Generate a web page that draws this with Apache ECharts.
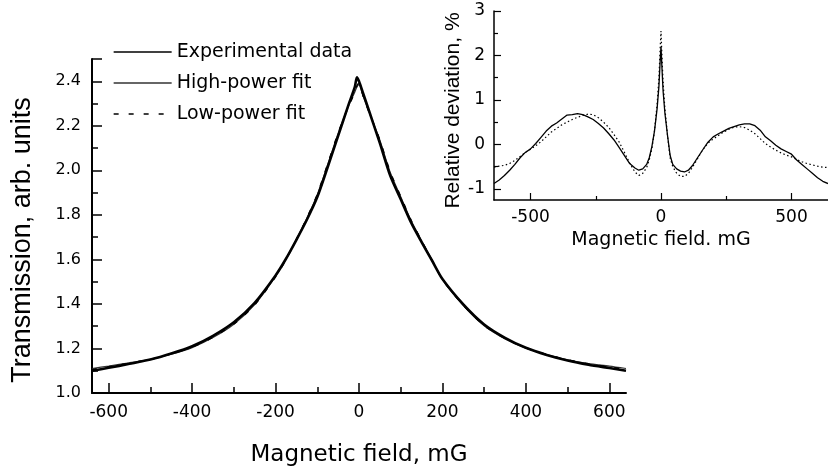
<!DOCTYPE html>
<html>
<head>
<meta charset="utf-8">
<script src="https://cdn.jsdelivr.net/npm/echarts@6/dist/echarts.min.js"></script>
<style>html,body{margin:0;padding:0;background:#fff}#c{width:828px;height:473px}</style>
</head>
<body>
<div id="c"></div>
<script>
// ---- Main plot data ----
var MAIN_X = [-640,-600,-550,-500,-450,-400,-350,-300,-250,-200,-175,-150,-125,-100,-75,-50,-25,-10,-5,0,10,25,50,75,100,125,150,175,200,250,300,350,400,450,500,550,600,640];
var MAIN_EXP = [1.100,1.113,1.131,1.150,1.177,1.210,1.257,1.318,1.405,1.528,1.603,1.688,1.778,1.880,2.015,2.155,2.295,2.375,2.418,2.400,2.345,2.262,2.122,1.975,1.870,1.765,1.678,1.595,1.512,1.398,1.308,1.248,1.203,1.171,1.146,1.127,1.112,1.100];
var MAIN_HP = [1.110,1.121,1.136,1.151,1.174,1.204,1.249,1.309,1.397,1.524,1.602,1.692,1.785,1.890,2.026,2.166,2.290,2.352,2.375,2.385,2.333,2.258,2.135,1.990,1.881,1.774,1.684,1.597,1.510,1.393,1.302,1.243,1.201,1.172,1.149,1.132,1.121,1.110];
var MAIN_LP = [1.106,1.118,1.134,1.151,1.176,1.206,1.250,1.310,1.396,1.522,1.599,1.690,1.786,1.892,2.029,2.168,2.288,2.350,2.380,2.392,2.333,2.257,2.136,1.992,1.883,1.775,1.684,1.595,1.510,1.394,1.303,1.245,1.203,1.173,1.149,1.131,1.117,1.106];
var MAIN_X_MAJOR = [-600,-400,-200,0,200,400,600];
var MAIN_X_MINOR = [-500,-300,-100,100,300,500];
var MAIN_Y_MAJOR = [1.0,1.2,1.4,1.6,1.8,2.0,2.2,2.4,2.5];
var MAIN_Y_LABELS = [1.0,1.2,1.4,1.6,1.8,2.0,2.2,2.4];
var MAIN_Y_MINOR = [1.1,1.3,1.5,1.7,1.9,2.1,2.3];
var LEGEND_NAMES = ['Experimental data','High-power fit','Low-power fit'];

// ---- Inset data ----
var INS_X = [-640,-620,-600,-580,-560,-540,-520,-500,-480,-460,-440,-420,-400,-380,-360,-340,-320,-300,-280,-260,-240,-220,-200,-180,-160,-140,-120,-100,-85,-70,-55,-45,-35,-25,-15,-8,-3,0,3,8,15,25,35,45,60,75,90,105,120,140,160,180,200,220,240,260,280,300,320,340,360,380,400,420,440,460,480,500,520,540,560,580,600,620,640];
var INS_HP = [-0.88,-0.80,-0.70,-0.58,-0.45,-0.30,-0.18,-0.10,0.02,0.16,0.30,0.41,0.48,0.57,0.66,0.67,0.69,0.67,0.62,0.56,0.47,0.37,0.24,0.10,-0.07,-0.25,-0.43,-0.53,-0.58,-0.55,-0.45,-0.30,-0.05,0.30,0.80,1.30,1.90,2.20,1.80,1.20,0.70,0.20,-0.25,-0.45,-0.55,-0.60,-0.62,-0.58,-0.48,-0.30,-0.12,0.05,0.17,0.24,0.30,0.36,0.40,0.44,0.46,0.46,0.42,0.32,0.17,0.08,-0.02,-0.10,-0.16,-0.22,-0.35,-0.45,-0.55,-0.65,-0.75,-0.83,-0.88];
var INS_LP = [-0.51,-0.49,-0.47,-0.43,-0.36,-0.27,-0.18,-0.11,-0.03,0.06,0.17,0.28,0.36,0.44,0.50,0.56,0.61,0.65,0.68,0.67,0.60,0.50,0.38,0.22,0.05,-0.18,-0.42,-0.62,-0.70,-0.65,-0.52,-0.35,-0.10,0.30,0.90,1.50,2.20,2.55,2.10,1.40,0.80,0.20,-0.30,-0.50,-0.65,-0.72,-0.72,-0.65,-0.52,-0.32,-0.12,0.03,0.12,0.20,0.28,0.34,0.39,0.40,0.38,0.32,0.24,0.13,0.02,-0.06,-0.13,-0.19,-0.24,-0.28,-0.34,-0.39,-0.43,-0.46,-0.49,-0.51,-0.52];
var INS_X_MAJOR = [-500,0,500];
var INS_X_MINOR = [-250,250];
var INS_Y_MAJOR = [-1,0,1,2,3];
var INS_Y_MINOR = [-0.5,0.5,1.5,2.5];

function pairs(xs, ys){ return xs.map(function(x,i){ return [x, ys[i]]; }); }

var SANS = 'DejaVu Sans';
var ARIAL = 'Liberation Sans';
var BLACK = '#000';

var chart = echarts.init(document.getElementById('c'), null, {renderer:'canvas'});
chart.setOption({
  animation:false,
  backgroundColor:'#fff',
  grid:[
    {left:92, top:59, width:534, height:334},
    {left:494, top:11, width:336, height:189}
  ],
  legend:{
    orient:'vertical', left:108, top:37, itemWidth:58, itemHeight:14, itemGap:11,
    data:LEGEND_NAMES,
    textStyle:{fontFamily:SANS, fontSize:19, color:BLACK, lineHeight:20},
    itemStyle:{opacity:0},
    lineStyle:{width:1.3}
  },
  xAxis:[
    {gridIndex:0, type:'value', min:-640, max:640, position:'bottom',
     name:'Magnetic field, mG', nameLocation:'middle', nameGap:51,
     nameTextStyle:{fontFamily:SANS, fontSize:23, color:BLACK},
     axisLine:{show:true, onZero:false, lineStyle:{color:BLACK, width:2}},
     axisTick:{show:true, inside:true, length:10, lineStyle:{color:BLACK, width:1.5}, customValues:MAIN_X_MAJOR},
     axisLabel:{show:true, margin:11, fontFamily:SANS, fontSize:17, color:BLACK, customValues:MAIN_X_MAJOR},
     splitLine:{show:false}},
    {gridIndex:0, type:'value', min:-640, max:640, position:'bottom',
     axisLine:{show:false, onZero:false},
     axisTick:{show:true, inside:true, length:6, lineStyle:{color:BLACK, width:1.5}, customValues:MAIN_X_MINOR},
     axisLabel:{show:false}, splitLine:{show:false}},
    {gridIndex:1, type:'value', min:-640, max:640, position:'bottom',
     name:'Magnetic field. mG', nameLocation:'middle', nameGap:31,
     nameTextStyle:{fontFamily:SANS, fontSize:19, color:BLACK},
     axisLine:{show:true, onZero:false, lineStyle:{color:BLACK, width:1.5}},
     axisTick:{show:true, inside:true, length:7, lineStyle:{color:BLACK, width:1.2}, customValues:INS_X_MAJOR},
     axisLabel:{show:true, margin:9, fontFamily:SANS, fontSize:17, color:BLACK, customValues:INS_X_MAJOR},
     splitLine:{show:false}},
    {gridIndex:1, type:'value', min:-640, max:640, position:'bottom',
     axisLine:{show:false, onZero:false},
     axisTick:{show:true, inside:true, length:4, lineStyle:{color:BLACK, width:1.2}, customValues:INS_X_MINOR},
     axisLabel:{show:false}, splitLine:{show:false}}
  ],
  yAxis:[
    {gridIndex:0, type:'value', min:1.0, max:2.5, position:'left',
     name:'Transmission, arb. units', nameLocation:'middle', nameGap:56,
     nameTextStyle:{fontFamily:ARIAL, fontSize:27, color:BLACK, padding:[0,28,0,0]},
     axisLine:{show:true, onZero:false, lineStyle:{color:BLACK, width:2}},
     axisTick:{show:true, inside:true, length:10, lineStyle:{color:BLACK, width:1.5}, customValues:MAIN_Y_MAJOR},
     axisLabel:{show:true, margin:11, fontFamily:SANS, fontSize:16, color:BLACK, customValues:MAIN_Y_LABELS,
       formatter:function(v){ return v.toFixed(1); }},
     splitLine:{show:false}},
    {gridIndex:0, type:'value', min:1.0, max:2.5, position:'left',
     axisLine:{show:false, onZero:false},
     axisTick:{show:true, inside:true, length:6, lineStyle:{color:BLACK, width:1.5}, customValues:MAIN_Y_MINOR},
     axisLabel:{show:false}, splitLine:{show:false}},
    {gridIndex:1, type:'value', min:-1.25, max:3, position:'left',
     name:'Relative deviation, %', nameLocation:'middle', nameGap:30,
     nameTextStyle:{fontFamily:ARIAL, fontSize:21, color:BLACK, padding:[0,10,0,0]},
     axisLine:{show:true, onZero:false, lineStyle:{color:BLACK, width:1.5}},
     axisTick:{show:true, inside:true, length:7, lineStyle:{color:BLACK, width:1.2}, customValues:INS_Y_MAJOR},
     axisLabel:{show:true, margin:9, fontFamily:SANS, fontSize:17, color:BLACK, customValues:INS_Y_MAJOR},
     splitLine:{show:false}},
    {gridIndex:1, type:'value', min:-1.25, max:3, position:'left',
     axisLine:{show:false, onZero:false},
     axisTick:{show:true, inside:true, length:4, lineStyle:{color:BLACK, width:1.2}, customValues:INS_Y_MINOR},
     axisLabel:{show:false}, splitLine:{show:false}}
  ],
  series:[
    {name:LEGEND_NAMES[0], type:'line', xAxisIndex:0, yAxisIndex:0, z:5, symbol:'none', smooth:0.25,
     data:pairs(MAIN_X, MAIN_EXP), lineStyle:{color:BLACK, width:2.6}, itemStyle:{color:BLACK}},
    {name:LEGEND_NAMES[1], type:'line', xAxisIndex:0, yAxisIndex:0, z:3, symbol:'none', smooth:0.25,
     data:pairs(MAIN_X, MAIN_HP), lineStyle:{color:'#333', width:1.2}, itemStyle:{color:'#555'}},
    {name:LEGEND_NAMES[2], type:'line', xAxisIndex:0, yAxisIndex:0, z:4, symbol:'none', smooth:0.25,
     data:pairs(MAIN_X, MAIN_LP), lineStyle:{color:BLACK, width:1.5, type:[5,10]}, itemStyle:{color:BLACK}},
    {name:'inset-hp', type:'line', xAxisIndex:2, yAxisIndex:2, symbol:'none',
     data:pairs(INS_X, INS_HP), lineStyle:{color:BLACK, width:1.3}},
    {name:'inset-lp', type:'line', xAxisIndex:2, yAxisIndex:2, symbol:'none',
     data:pairs(INS_X, INS_LP), lineStyle:{color:BLACK, width:1.2, type:[1.5,2.5]}}
  ]
});
</script>
</body>
</html>
